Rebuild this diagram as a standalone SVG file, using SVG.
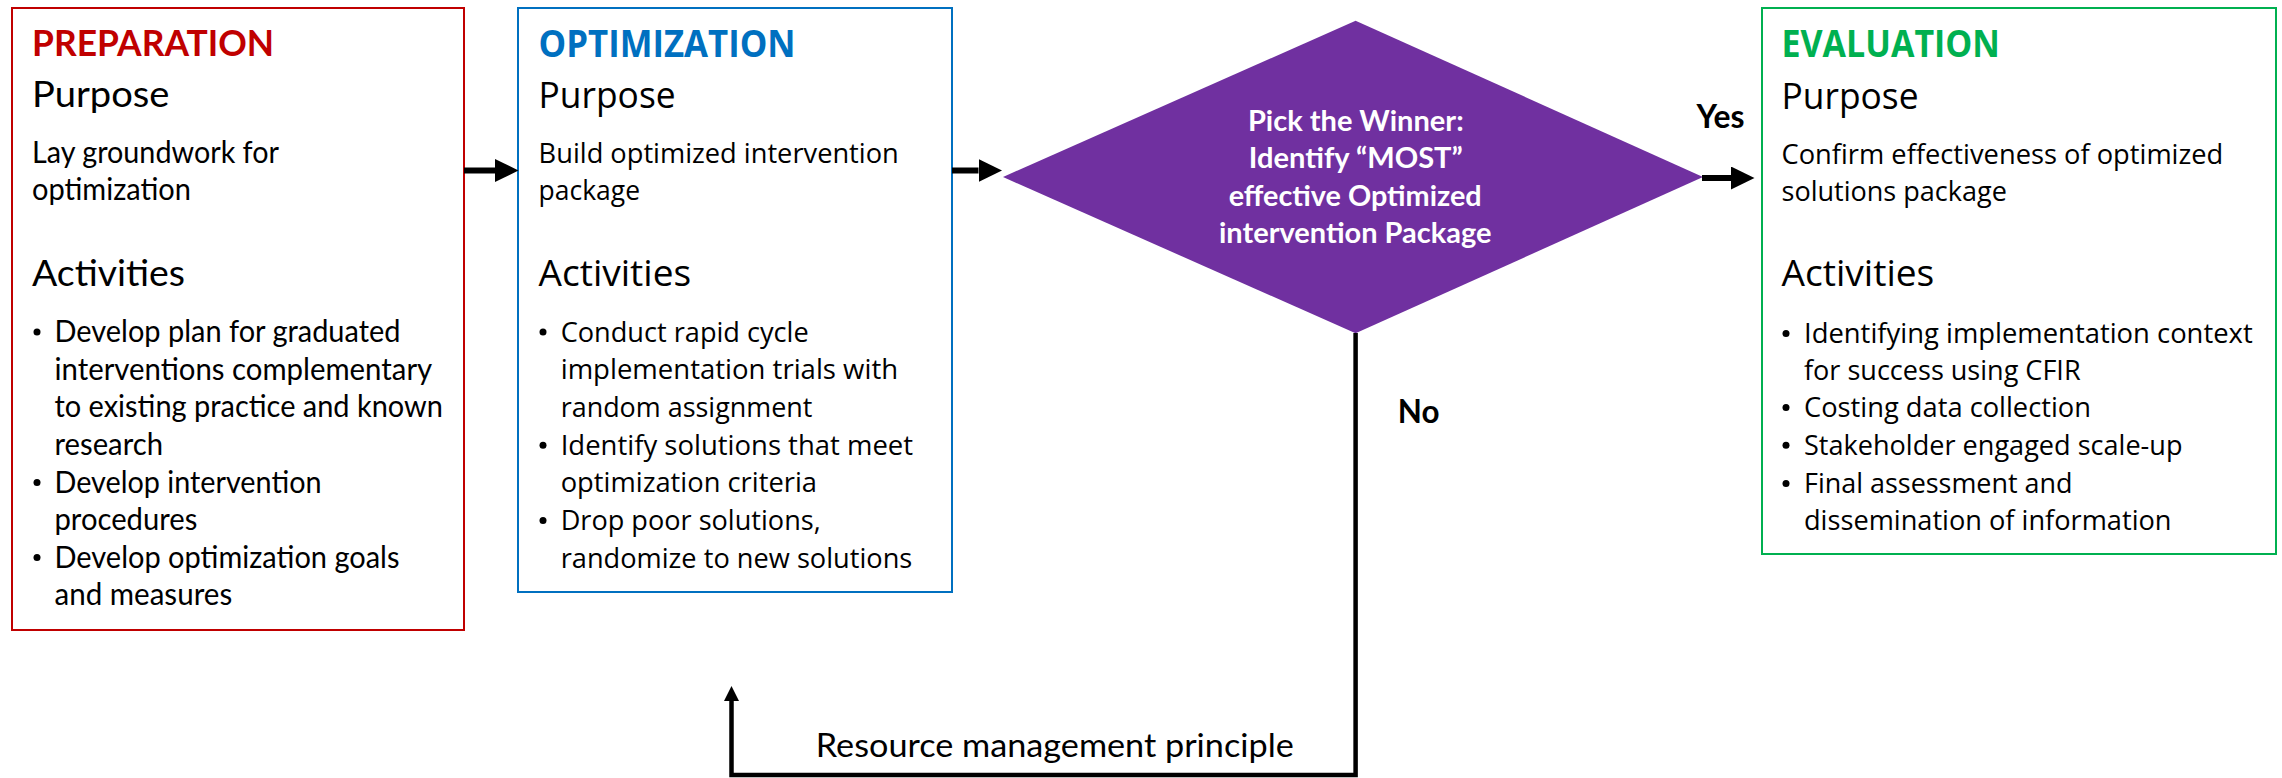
<svg xmlns="http://www.w3.org/2000/svg" width="2282" height="778" viewBox="0 0 2282 778">
  <style>
    .cal { font-family: Lato, "Liberation Sans", sans-serif; fill: #000; }
    .seg { font-family: "Open Sans", "Noto Sans", "Liberation Sans", sans-serif; fill: #000; }
    .title { font-weight: bold; font-size: 37px; }
    .head { font-size: 37px; }
    .cbody { font-size: 30px; }
    .sbody { font-size: 27.5px; }
    .dia { font-family: Lato, "Liberation Sans", sans-serif; font-weight: bold; font-size: 29px; fill: #fff; }
    .lbl { font-family: Lato, "Liberation Sans", sans-serif; font-weight: bold; font-size: 32px; fill: #000; }
    .box { fill: #fff; stroke-width: 2; }
    .link { fill: none; stroke: #000; }
  </style>
  <defs>
    <marker id="headBig" markerUnits="userSpaceOnUse" markerWidth="24" markerHeight="24" refX="0" refY="11.5" orient="auto">
      <path d="M0,0 L23.5,11.5 L0,23 z" fill="#000"/>
    </marker>
    <marker id="headSmall" markerUnits="userSpaceOnUse" markerWidth="16" markerHeight="16" refX="0" refY="7.5" orient="auto">
      <path d="M0,0 L15,7.5 L0,15 z" fill="#000"/>
    </marker>
  </defs>

  <rect width="2282" height="778" fill="#fff"/>

  <!-- Preparation phase -->
  <g id="preparation">
    <rect class="box" x="12" y="8" width="452" height="622" stroke="#C00000"/>
    <text class="cal title" x="32" y="56" style="fill:#C00000" textLength="242" lengthAdjust="spacingAndGlyphs">PREPARATION</text>
    <text class="cal head" x="32" y="107" textLength="137.5" lengthAdjust="spacingAndGlyphs">Purpose</text>
    <text class="cal cbody" x="32" y="163" textLength="247" lengthAdjust="spacingAndGlyphs">Lay groundwork for</text>
    <text class="cal cbody" x="32" y="200" textLength="159" lengthAdjust="spacingAndGlyphs">optimization</text>
    <text class="cal head" x="32" y="286" textLength="153" lengthAdjust="spacingAndGlyphs">Activities</text>
    <circle cx="37" cy="332" r="3.5"/>
    <circle cx="37" cy="482.5" r="3.5"/>
    <circle cx="37" cy="557.5" r="3.5"/>
    <text class="cal cbody" x="54.5" y="342" textLength="346" lengthAdjust="spacingAndGlyphs">Develop plan for graduated</text>
    <text class="cal cbody" x="54.5" y="379.5" textLength="377.7" lengthAdjust="spacingAndGlyphs">interventions complementary</text>
    <text class="cal cbody" x="54.5" y="417" textLength="388.4" lengthAdjust="spacingAndGlyphs">to existing practice and known</text>
    <text class="cal cbody" x="54.5" y="455" textLength="108.5" lengthAdjust="spacingAndGlyphs">research</text>
    <text class="cal cbody" x="54.5" y="492.5" textLength="267" lengthAdjust="spacingAndGlyphs">Develop intervention</text>
    <text class="cal cbody" x="54.5" y="530" textLength="142.8" lengthAdjust="spacingAndGlyphs">procedures</text>
    <text class="cal cbody" x="54.5" y="567.5" textLength="345" lengthAdjust="spacingAndGlyphs">Develop optimization goals</text>
    <text class="cal cbody" x="54.5" y="605" textLength="177.7" lengthAdjust="spacingAndGlyphs">and measures</text>
  </g>

  <!-- Optimization phase -->
  <g id="optimization">
    <rect class="box" x="518" y="8" width="434" height="584" stroke="#0070C0"/>
    <text class="seg title" x="538.6" y="57.4" style="fill:#0070C0" textLength="257" lengthAdjust="spacingAndGlyphs">OPTIMIZATION</text>
    <text class="seg head" x="538.6" y="107.5" textLength="137" lengthAdjust="spacingAndGlyphs">Purpose</text>
    <text class="seg sbody" x="538.6" y="163" textLength="360.2" lengthAdjust="spacingAndGlyphs">Build optimized intervention</text>
    <text class="seg sbody" x="538.6" y="200.4" textLength="101.4" lengthAdjust="spacingAndGlyphs">package</text>
    <text class="seg head" x="538.6" y="285.5" textLength="152.5" lengthAdjust="spacingAndGlyphs">Activities</text>
    <circle cx="543" cy="332" r="3.5"/>
    <circle cx="543" cy="445.2" r="3.5"/>
    <circle cx="543" cy="520.5" r="3.5"/>
    <text class="seg sbody" x="560.7" y="341.5" textLength="248" lengthAdjust="spacingAndGlyphs">Conduct rapid cycle</text>
    <text class="seg sbody" x="560.7" y="379.2" textLength="337.4" lengthAdjust="spacingAndGlyphs">implementation trials with</text>
    <text class="seg sbody" x="560.7" y="417" textLength="251.7" lengthAdjust="spacingAndGlyphs">random assignment</text>
    <text class="seg sbody" x="560.7" y="454.7" textLength="352.4" lengthAdjust="spacingAndGlyphs">Identify solutions that meet</text>
    <text class="seg sbody" x="560.7" y="492.4" textLength="256.3" lengthAdjust="spacingAndGlyphs">optimization criteria</text>
    <text class="seg sbody" x="560.7" y="530" textLength="260" lengthAdjust="spacingAndGlyphs">Drop poor solutions,</text>
    <text class="seg sbody" x="560.7" y="567.7" textLength="351.6" lengthAdjust="spacingAndGlyphs">randomize to new solutions</text>
  </g>

  <!-- Decision: pick the winner -->
  <g id="decision">
    <polygon points="1355.6,20.7 1703,177 1355.6,333.3 1003,177" fill="#7030A0"/>
    <text class="dia" x="1355.8" y="130.5" text-anchor="middle" textLength="215.7" lengthAdjust="spacingAndGlyphs">Pick the Winner:</text>
    <text class="dia" x="1355.8" y="168.3" text-anchor="middle" textLength="214" lengthAdjust="spacingAndGlyphs">Identify “MOST”</text>
    <text class="dia" x="1355.2" y="205.6" text-anchor="middle" textLength="253" lengthAdjust="spacingAndGlyphs">effective Optimized</text>
    <text class="dia" x="1355.2" y="242.7" text-anchor="middle" textLength="272.4" lengthAdjust="spacingAndGlyphs">intervention Package</text>
  </g>

  <!-- Evaluation phase -->
  <g id="evaluation">
    <rect class="box" x="1762" y="8" width="514" height="546" stroke="#00B050"/>
    <text class="seg title" x="1781.5" y="57.3" style="fill:#00B050" textLength="218.5" lengthAdjust="spacingAndGlyphs">EVALUATION</text>
    <text class="seg head" x="1781.5" y="108.5" textLength="137" lengthAdjust="spacingAndGlyphs">Purpose</text>
    <text class="seg sbody" x="1781.5" y="164" textLength="441.8" lengthAdjust="spacingAndGlyphs">Confirm effectiveness of optimized</text>
    <text class="seg sbody" x="1781.5" y="201" textLength="225.4" lengthAdjust="spacingAndGlyphs">solutions package</text>
    <text class="seg head" x="1781.5" y="286" textLength="152.8" lengthAdjust="spacingAndGlyphs">Activities</text>
    <circle cx="1786" cy="333.5" r="3.5"/>
    <circle cx="1786" cy="407.5" r="3.5"/>
    <circle cx="1786" cy="445.3" r="3.5"/>
    <circle cx="1786" cy="483.5" r="3.5"/>
    <text class="seg sbody" x="1804" y="343" textLength="448.7" lengthAdjust="spacingAndGlyphs">Identifying implementation context</text>
    <text class="seg sbody" x="1804" y="380" textLength="276.6" lengthAdjust="spacingAndGlyphs">for success using CFIR</text>
    <text class="seg sbody" x="1804" y="417" textLength="287" lengthAdjust="spacingAndGlyphs">Costing data collection</text>
    <text class="seg sbody" x="1804" y="454.8" textLength="378.5" lengthAdjust="spacingAndGlyphs">Stakeholder engaged scale-up</text>
    <text class="seg sbody" x="1804" y="493" textLength="268.6" lengthAdjust="spacingAndGlyphs">Final assessment and</text>
    <text class="seg sbody" x="1804" y="530" textLength="367.5" lengthAdjust="spacingAndGlyphs">dissemination of information</text>
  </g>

  <!-- Connectors -->
  <g id="connectors">
    <line class="link" x1="464" y1="170.5" x2="495" y2="170.5" stroke-width="6" marker-end="url(#headBig)"/>
    <line class="link" x1="952" y1="170.5" x2="978.5" y2="170.5" stroke-width="6" marker-end="url(#headBig)"/>
    <line class="link" x1="1702" y1="178" x2="1731" y2="178" stroke-width="6" marker-end="url(#headBig)"/>
    <polyline class="link" points="1355.6,333 1355.6,775 731.5,775 731.5,701" stroke-width="4.5" marker-end="url(#headSmall)"/>
    <text class="lbl" x="1696.4" y="128" textLength="48" lengthAdjust="spacingAndGlyphs">Yes</text>
    <text class="lbl" x="1397.8" y="423" textLength="41.7" lengthAdjust="spacingAndGlyphs">No</text>
    <text class="cal" x="815.8" y="756.7" font-size="33" textLength="478" lengthAdjust="spacingAndGlyphs">Resource management principle</text>
  </g>
</svg>
